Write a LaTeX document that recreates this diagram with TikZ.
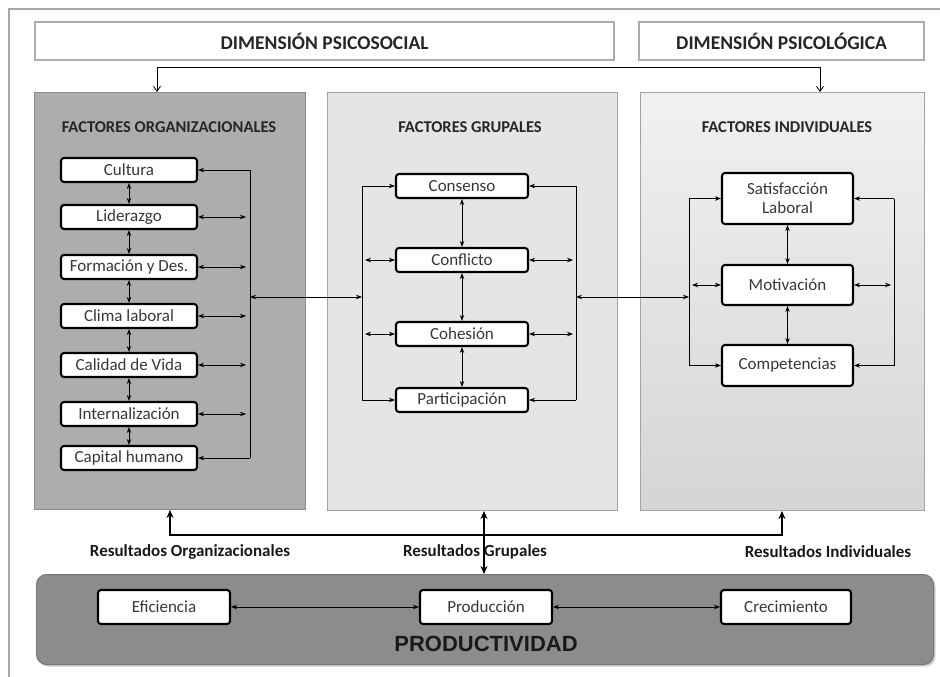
\documentclass[tikz,border=0pt]{standalone}
\usepackage{fontspec}
\setmainfont{Carlito}
\newfontfamily\prodfont{Liberation Sans}
\usetikzlibrary{arrows.meta,shadows}
\definecolor{txt}{HTML}{383838}
\definecolor{orgfill}{HTML}{ADADAD}
\definecolor{orgline}{HTML}{8A8A8A}
\definecolor{grpfill}{HTML}{E5E5E5}
\definecolor{panline}{HTML}{A3A3A3}
\definecolor{indtop}{HTML}{F1F1F1}
\definecolor{indbot}{HTML}{D5D5D5}
\definecolor{prodfill}{HTML}{8C8C8C}
\definecolor{frameline}{HTML}{A8A8A8}
\tikzset{
  fbox/.style={draw=black, line width=2.1pt, fill=white, rounded corners=3pt,
    minimum width=136pt, minimum height=24pt, inner sep=0pt,
    font=\fontsize{17}{19}\selectfont, text=txt, align=center},
  panel/.style={draw=panline, line width=1pt, anchor=north west, inner sep=0pt},
  hbox/.style={draw=gray!65, line width=2.2pt, fill=white, anchor=north west,
    minimum height=38pt, inner sep=0pt, font=\bfseries\fontsize{19.5}{21}\selectfont, text=black!85},
  ptitle/.style={font=\bfseries\fontsize{16.5}{18}\selectfont, text=black!85},
  rlabel/.style={font=\bfseries\fontsize{17}{19}\selectfont, text=black!90},
  tip/.style={-{Stealth[length=6pt,width=4.5pt]}, line width=0.8pt},
  dtip/.style={{Stealth[length=6pt,width=4.5pt]}-{Stealth[length=6pt,width=4.5pt]}, line width=0.8pt},
  bus/.style={line width=0.8pt},
  thk/.style={{Stealth[length=8pt,width=7pt]}-{Stealth[length=8pt,width=7pt]}, line width=2.6pt},
}
\begin{document}
\begin{tikzpicture}[x=1pt,y=-1pt]
\useasboundingbox (0,0) rectangle (940,677);
% outer frame
\draw[frameline, line width=1.5pt] (9,677) -- (9,9) -- (940,9);
% headers
\node[hbox, minimum width=579pt] (hps) at (34,21) {DIMENSIÓN PSICOSOCIAL};
\node[hbox, minimum width=285pt] (hpg) at (638,21) {DIMENSIÓN PSICOLÓGICA};
% panels
\node[panel, draw=orgline, fill=orgfill, minimum width=271pt, minimum height=417pt] (org) at (34,92) {};
\node[panel, fill=grpfill, minimum width=290pt, minimum height=418pt] (grp) at (327,92) {};
\node[panel, top color=indtop, bottom color=indbot, minimum width=284pt, minimum height=418pt] (ind) at (640,92) {};
% top connector
\coordinate (tl) at (157,67);
\coordinate (tr) at (820,67);
\draw[{Straight Barb[length=5pt,width=7pt]}-{Straight Barb[length=5pt,width=7pt]}, line width=0.8pt]
  (org.north -| tl) -- (tl) -- (tr) -- (ind.north -| tr);
% panel titles
\node[ptitle] (orgt) at (169,127) {FACTORES ORGANIZACIONALES};
\node[ptitle] (grpt) at (470,127) {FACTORES GRUPALES};
\node[ptitle] (indt) at (787,127) {FACTORES INDIVIDUALES};
% organizational factors
\node[fbox] (cul) at (129,170) {Cultura};
\node[fbox] (lid) at (129,217) {Liderazgo};
\node[fbox] (for) at (129,267) {Formación y Des.};
\node[fbox] (cli) at (129,316) {Clima laboral};
\node[fbox] (cal) at (129,365) {Calidad de Vida};
\node[fbox] (int) at (129,414) {Internalización};
\node[fbox] (cap) at (129,458) {Capital humano};
\foreach \a/\b in {cul/lid,lid/for,for/cli,cli/cal,cal/int,int/cap}
  \draw[dtip] (\a.south) -- (\b.north);
\coordinate (obt) at (250,170);
\coordinate (obb) at (250,458);
\coordinate (obx) at (246,0);
\draw[bus] (obt) -- (obb);
\draw[tip] (obt) -- (cul.east);
\draw[tip] (obb) -- (cap.east);
\foreach \n in {lid,for,cli,cal,int}
  \draw[dtip] (\n.east) -- (\n.east -| obx);
% group factors
\node[fbox, minimum width=132pt] (con) at (462,186) {Consenso};
\node[fbox, minimum width=132pt] (cnf) at (462,260) {Conflicto};
\node[fbox, minimum width=132pt] (coh) at (462,334) {Cohesión};
\node[fbox, minimum width=132pt] (par) at (462,400) {Participación};
\foreach \a/\b in {con/cnf,cnf/coh,coh/par}
  \draw[dtip] (\a.south) -- (\b.north);
\coordinate (glt) at (362,186);
\coordinate (glb) at (362,400);
\coordinate (glx) at (365,0);
\coordinate (grt) at (576,186);
\coordinate (grb) at (576,400);
\coordinate (grx) at (573,0);
\draw[bus] (glt) -- (glb);
\draw[bus] (grt) -- (grb);
\draw[tip] (glt) -- (con.west);
\draw[tip] (glb) -- (par.west);
\draw[tip] (grt) -- (con.east);
\draw[tip] (grb) -- (par.east);
\foreach \n in {cnf,coh}{
  \draw[dtip] (\n.west -| glx) -- (\n.west);
  \draw[dtip] (\n.east) -- (\n.east -| grx);
}
% individual factors
\node[fbox, minimum width=131pt, minimum height=51pt] (sat) at (787.5,198.5) {Satisfacción\\Laboral};
\node[fbox, minimum width=131pt, minimum height=40pt] (mot) at (787.5,285) {Motivación};
\node[fbox, minimum width=131pt, minimum height=41pt] (com) at (787.5,365.5) {Competencias};
\draw[dtip] (sat.south) -- (mot.north);
\draw[dtip] (mot.south) -- (com.north);
\coordinate (ilt) at (689,198.5);
\coordinate (ilb) at (689,365.5);
\coordinate (ilx) at (692,0);
\coordinate (irt) at (894,198.5);
\coordinate (irb) at (894,365.5);
\coordinate (irx) at (891,0);
\draw[bus] (ilt) -- (ilb);
\draw[bus] (irt) -- (irb);
\draw[tip] (ilt) -- (sat.west);
\draw[tip] (ilb) -- (com.west);
\draw[tip] (irt) -- (sat.east);
\draw[tip] (irb) -- (com.east);
\draw[dtip] (mot.west -| ilx) -- (mot.west);
\draw[dtip] (mot.east) -- (mot.east -| irx);
% links between panels
\coordinate (om) at (250,297);
\coordinate (gm) at (362,297);
\coordinate (gr) at (576,297);
\coordinate (im) at (689,297);
\draw[dtip] (om) -- (gm);
\draw[dtip] (gr) -- (im);
% productividad
\node[draw=prodfill!85!black, line width=1pt, fill=prodfill, rounded corners=10pt,
  drop shadow={shadow xshift=2pt, shadow yshift=-2pt, opacity=0.4},
  minimum width=897pt, minimum height=90pt, anchor=north west, inner sep=0pt] (prod) at (36,574) {};
\node[fbox, minimum width=132pt, minimum height=34pt] (efi) at (164,607) {Eficiencia};
\node[fbox, minimum width=132pt, minimum height=34pt] (pro) at (486,607) {Producción};
\node[fbox, minimum width=130pt, minimum height=34pt] (cre) at (786,607) {Crecimiento};
\draw[dtip] (efi.east) -- (pro.west);
\draw[dtip] (pro.east) -- (cre.west);
\node[font=\prodfont\bfseries\fontsize{22}{24}\selectfont, text=black!90] (prodt) at (486,644) {PRODUCTIVIDAD};
% results
\coordinate (bl) at (170,535);
\coordinate (br) at (782,535);
\coordinate (mx) at (484,535);
\node[rlabel] (ro) at (190,552) {Resultados Organizacionales};
\node[rlabel] (rg) at (475,552) {Resultados Grupales};
\node[rlabel] (ri) at (828,552) {Resultados Individuales};
\draw[thk] (org.south -| bl) -- (bl) -- (br) -- (ind.south -| br);
\draw[thk] (grp.south -| mx) -- (prod.north -| mx);
\end{tikzpicture}
\end{document}
